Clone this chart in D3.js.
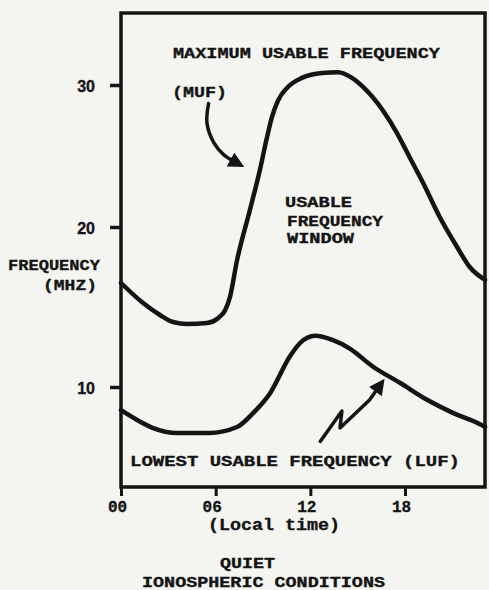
<!DOCTYPE html>
<html>
<head>
<meta charset="utf-8">
<script src="https://cdn.jsdelivr.net/npm/d3@7"></script>
<style>
  html, body { margin: 0; padding: 0; background: #f4f4f1; }
  svg { display: block; }
  text { font-family: "Liberation Mono", "DejaVu Sans Mono", monospace; font-weight: bold; fill: #141414; stroke: #141414; stroke-width: 0.35px; }
</style>
</head>
<body>
<svg id="chart" width="489" height="590"></svg>
<script>
// ---- data ----
const mufHours  = [0, 1.4, 2.47, 3.3, 4.18, 5.45, 6.15, 6.6, 6.9, 7.35, 8.17, 8.8, 9.25, 9.57, 9.95, 10.58, 11.47, 12.74, 13.75, 14.64, 15.34, 16.6, 17.5, 18.3, 19.15, 20.2, 21.3, 22.1, 23.07];
const mufValues = [16.5, 15.25, 14.5, 14.06, 13.94, 14.0, 14.3, 14.8, 15.6, 17.9, 21.2, 24.0, 26.3, 27.75, 28.9, 29.86, 30.5, 30.85, 30.9, 30.5, 29.86, 28.2, 26.6, 24.9, 23.1, 20.7, 18.75, 17.5, 16.7];
const lufHours  = [0, 1.0, 2.0, 3.55, 5.6, 7.35, 8.4, 9.44, 10.7, 11.35, 12.3, 13.4, 14.5, 16.0, 17.7, 19.4, 21.0, 22.9, 23.07];
const lufValues = [8.55, 7.95, 7.45, 7.13, 7.13, 7.5, 8.4, 9.6, 11.9, 12.75, 13.2, 12.94, 12.4, 11.25, 10.25, 9.2, 8.4, 7.6, 7.5];
const yTicks = [10, 20, 30];
const xTicks = [0, 6, 12, 18];
const xTickLabels = ["00", "06", "12", "18"];
const mufArrow = [[5.55, 28.7], [5.45, 27.3], [5.9, 25.9], [6.5, 25.1], [7.2, 24.6]];
const lufArrow = [[12.63, 6.6], [14.0, 8.5], [13.88, 7.44], [15.75, 9.19], [16.3, 9.95]];

// ---- layout ----
const svg = d3.select("#chart");
const mLeft = 121, mRight = 485, mTop = 13, mBottom = 487;
const ink = "#141414";

const x = d3.scaleLinear().domain([0, 18]).range([mLeft, 405]);
// hand-drawn axis: tick spacing is uneven, so use a piecewise scale through the drawn ticks
const y = d3.scaleLinear().domain([10, 20, 30]).range([387, 227, 85]);

// frame
svg.append("rect")
  .attr("x", mLeft).attr("y", mTop)
  .attr("width", mRight - mLeft).attr("height", mBottom - mTop)
  .attr("fill", "none").attr("stroke", ink).attr("stroke-width", 3.5);

// y axis
const yAxis = svg.append("g")
  .attr("transform", `translate(${mLeft},0)`)
  .call(d3.axisLeft(y).tickValues(yTicks).tickSize(11).tickPadding(15).tickFormat(d3.format("d")));
yAxis.select(".domain").remove();
yAxis.selectAll("line").attr("stroke", ink).attr("stroke-width", 3.5);
yAxis.selectAll("text").style("font-size", "16px").attr("fill", ink)
  .style("font-family", "'Liberation Sans', sans-serif").attr("dy", "0.4em");

// x axis
const xAxis = svg.append("g")
  .attr("transform", `translate(0,${mBottom})`)
  .call(d3.axisBottom(x).tickValues(xTicks).tickSize(9).tickPadding(5)
    .tickFormat((d, i) => xTickLabels[i]));
xAxis.select(".domain").remove();
xAxis.selectAll("line").attr("stroke", ink).attr("stroke-width", 3);
xAxis.selectAll("text").style("font-size", "16px").attr("fill", ink).attr("dx", "-4");

// curves
const line = d3.line().x(d => x(d[0])).y(d => y(d[1])).curve(d3.curveMonotoneX);
svg.append("path")
  .attr("d", line(mufHours.map((h, i) => [h, mufValues[i]])))
  .attr("fill", "none").attr("stroke", ink).attr("stroke-width", 4.5)
  .attr("stroke-linejoin", "round").attr("stroke-linecap", "round");
svg.append("path")
  .attr("d", line(lufHours.map((h, i) => [h, lufValues[i]])))
  .attr("fill", "none").attr("stroke", ink).attr("stroke-width", 4.5)
  .attr("stroke-linejoin", "round").attr("stroke-linecap", "round");

// arrow marker
svg.append("defs").append("marker")
  .attr("id", "head").attr("viewBox", "0 0 10 10")
  .attr("refX", 3).attr("refY", 5)
  .attr("markerWidth", 4.5).attr("markerHeight", 4.5)
  .attr("orient", "auto")
  .append("path").attr("d", "M0,0 L10,5 L0,10 Z").attr("fill", ink);

svg.append("path")
  .attr("d", d3.line().x(d => x(d[0])).y(d => y(d[1])).curve(d3.curveCatmullRom)(mufArrow))
  .attr("fill", "none").attr("stroke", ink).attr("stroke-width", 3.5)
  .attr("stroke-linecap", "round").attr("marker-end", "url(#head)");
svg.append("path")
  .attr("d", d3.line().x(d => x(d[0])).y(d => y(d[1]))(lufArrow))
  .attr("fill", "none").attr("stroke", ink).attr("stroke-width", 3.5)
  .attr("stroke-linejoin", "round").attr("stroke-linecap", "round").attr("marker-end", "url(#head)");

// labels
function label(txt, px, py, size, len, anchor) {
  const t = svg.append("text").attr("x", px).attr("y", py)
    .style("font-size", size + "px").text(txt);
  if (anchor) t.attr("text-anchor", anchor);
  if (len) t.attr("textLength", len).attr("lengthAdjust", "spacingAndGlyphs");
  return t;
}
label("MAXIMUM USABLE FREQUENCY", 173, 58, 15, 267);
label("(MUF)", 172, 97, 15, 55);
label("USABLE", 285, 207, 14, 67);
label("FREQUENCY", 287, 226, 14, 96);
label("WINDOW", 287, 243, 14, 67);
label("FREQUENCY", 8, 270, 15, 92);
label("(MHZ)", 43, 290, 15, 54);
label("LOWEST USABLE FREQUENCY  (LUF)", 130, 466, 15, 330);
label("(Local time)", 208, 530, 16, 132);
label("QUIET", 220, 568, 14, 55);
label("IONOSPHERIC CONDITIONS", 142, 587, 14, 243);
</script>
</body>
</html>
